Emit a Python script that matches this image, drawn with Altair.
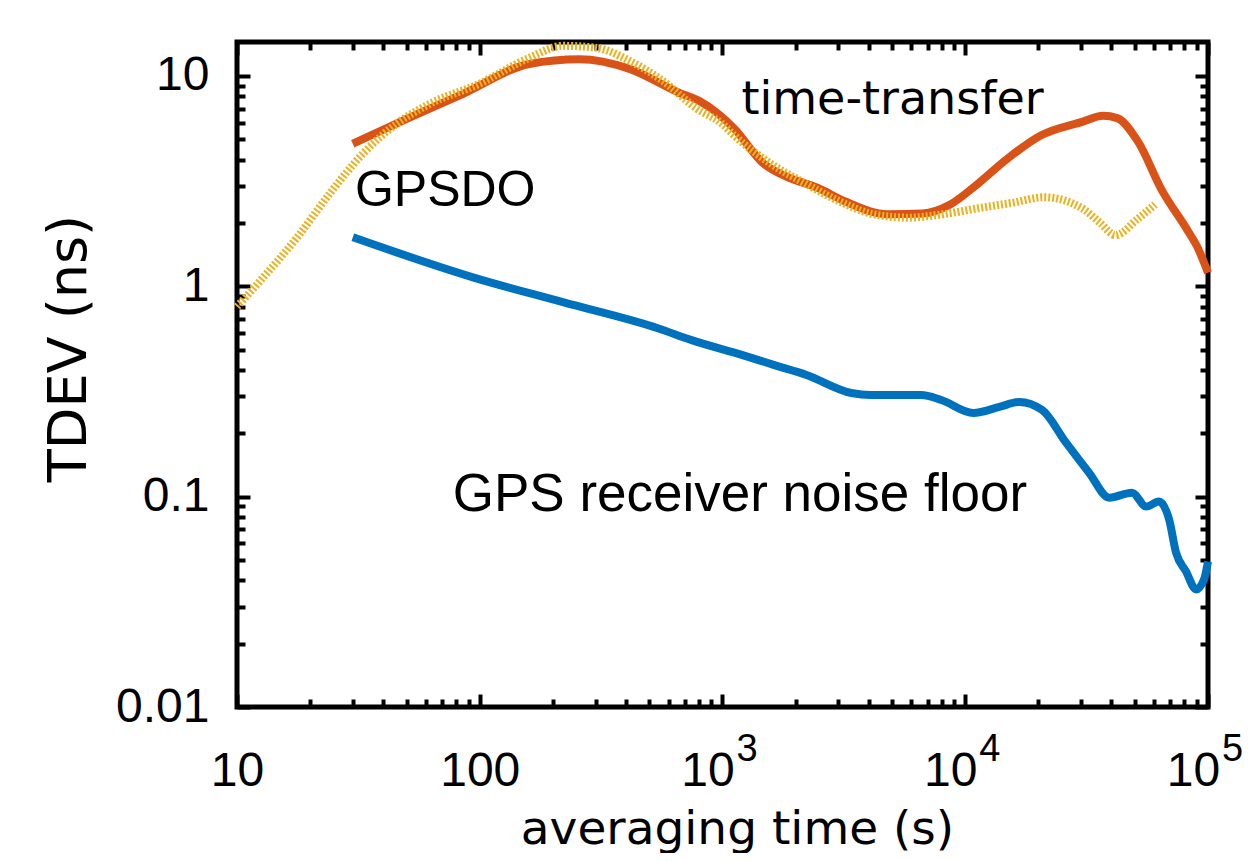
import altair as alt
import pandas as pd

# ---- data ----
tt_t = [30, 50, 85, 160, 258, 414, 665, 804, 1120, 1462, 1834, 2461, 3207, 4775,
        6653, 8670, 11300, 14750, 20370, 30300, 36980, 42260, 51500, 64700, 82000,
        90100, 100000]
tt_v = [4.76, 6.25, 8.2, 11.4, 12.0, 10.8, 8.3, 7.6, 5.61, 3.87, 3.32, 2.94, 2.53, 2.2,
        2.22, 2.45, 3.08, 4.0, 5.2, 6.05, 6.46, 6.3, 4.87, 2.85, 1.86, 1.55, 1.16]

gpsdo_t = [10, 12.8, 17.7, 24.1, 33.0, 45.5, 62.2, 100, 160, 220, 303, 414, 566, 782,
           1000, 1120, 1560, 2170, 3000, 4180, 5820, 8110, 11300, 15800, 21100, 30300,
           36000, 41500, 51500, 60500]
gpsdo_v = [0.80, 1.10, 1.71, 2.76, 4.27, 5.93, 7.37, 9.2, 12.2, 13.9, 13.6, 11.8, 9.5, 7.0,
           5.9, 5.2, 3.87, 3.1, 2.55, 2.2, 2.12, 2.2, 2.35, 2.5, 2.65, 2.35,
           2.0, 1.75, 2.1, 2.45]

floor_t = [30, 94.5, 220, 545, 746, 1210, 1637, 2218, 3396, 4064, 6590, 7965, 10790,
           13800, 16700, 20750, 26060, 32360, 39170, 48640, 55590, 62810, 69180, 73810,
           81160, 89300, 96300, 100000]
floor_v = [1.71, 1.10, 0.84, 0.63, 0.555, 0.471, 0.422, 0.379, 0.311, 0.304, 0.304, 0.288,
           0.250, 0.267, 0.282, 0.258, 0.180, 0.130, 0.0989, 0.1045, 0.0897, 0.0947,
           0.0778, 0.0543, 0.0441, 0.0362, 0.0404, 0.0492]

ann_text = ["time-transfer", "GPSDO", "GPS receiver noise floor"]
ann_t = [1197, 30.6, 77.4]
ann_v = [6.6, 2.42, 0.0859]

x_major = [10, 100, 1000, 10000, 100000]
x_super = [1000, 10000, 100000]
x_ticks = [10, 20, 30, 40, 50, 60, 70, 80, 90,
           100, 200, 300, 400, 500, 600, 700, 800, 900,
           1000, 2000, 3000, 4000, 5000, 6000, 7000, 8000, 9000,
           10000, 20000, 30000, 40000, 50000, 60000, 70000, 80000, 90000, 100000]
y_major = [0.01, 0.1, 1, 10]
y_ticks = [0.01, 0.02, 0.03, 0.04, 0.05, 0.06, 0.07, 0.08, 0.09,
           0.1, 0.2, 0.3, 0.4, 0.5, 0.6, 0.7, 0.8, 0.9,
           1, 2, 3, 4, 5, 6, 7, 8, 9, 10]

W, H = 971, 665
X_DOM = [10, 100000]
Y_DOM = [0.01, 14.5]

tt = pd.DataFrame({"t": tt_t, "v": tt_v})
gp = pd.DataFrame({"t": gpsdo_t, "v": gpsdo_v})
fl = pd.DataFrame({"t": floor_t, "v": floor_v})
ann = pd.DataFrame({"t": ann_t, "v": ann_v, "label": ann_text})

MAJOR = "abs(log(datum.value)/LN10 - round(log(datum.value)/LN10)) < 0.001"
TICK_SIZE = {"condition": {"test": MAJOR, "value": 13}, "value": 8}

xs = alt.Scale(type="log", domain=X_DOM, nice=False)
ys = alt.Scale(type="log", domain=Y_DOM, nice=False)

LABEL_FONT = "Liberation Sans"


def tick_axis(orient, offset, values):
    return alt.Axis(orient=orient, offset=offset, values=values, labels=False,
                    domain=False, grid=False, ticks=True, tickSize=TICK_SIZE,
                    tickWidth=4, tickColor="black", tickOpacity=1, title=None)


# layer 1: orange time-transfer, with label axes
x_lab = alt.Axis(orient="bottom", values=x_major, grid=False, domain=False, ticks=False,
                 tickSize=0, labelPadding=40, labelFlush=False, labelOverlap=False,
                 labelExpr="datum.value < 1000 ? format(datum.value, 'd') : '10'",
                 labelOffset={"condition": {"test": "datum.value >= 1000", "value": -15},
                              "value": 0},
                 labelFont=LABEL_FONT, labelFontSize=48, labelColor="black",
                 title="averaging time (s)", titleFont="DejaVu Sans", titleFontSize=47,
                 titleFontWeight="normal", titleColor="black", titleX=500, titleY=136,
                 titleAlign="center", titleBaseline="alphabetic")
y_lab = alt.Axis(orient="left", values=y_major, grid=False, domain=False, ticks=False,
                 tickSize=0, labelPadding=28, format="~g", labelFlush=False,
                 labelOverlap=False,
                 labelFont=LABEL_FONT, labelFontSize=48, labelColor="black",
                 title="TDEV (ns)", titleFont="DejaVu Sans", titleFontSize=54,
                 titleFontWeight="normal", titleColor="black", titleX=-152, titleY=306,
                 titleAngle=270, titleAlign="center", titleBaseline="alphabetic")

orange = alt.Chart(tt).mark_line(color="#D95319", strokeWidth=8, interpolate="monotone").encode(
    x=alt.X("t:Q", scale=xs, axis=x_lab),
    y=alt.Y("v:Q", scale=ys, axis=y_lab),
)

# layer 2: GPSDO dotted, ticks on bottom and left edges
yellow = alt.Chart(gp).mark_line(color="#EDB120", strokeWidth=8, strokeDash=[2, 2],
                                 interpolate="monotone").encode(
    x=alt.X("t:Q", scale=xs, axis=tick_axis("top", -H, x_ticks)),
    y=alt.Y("v:Q", scale=ys, axis=tick_axis("right", -W, y_ticks)),
)

# layer 3: receiver noise floor, ticks on top and right edges
blue = alt.Chart(fl).mark_line(color="#0072BD", strokeWidth=8, interpolate="monotone").encode(
    x=alt.X("t:Q", scale=xs, axis=tick_axis("bottom", -H, x_ticks)),
    y=alt.Y("v:Q", scale=ys, axis=tick_axis("left", -W, y_ticks)),
)

# layer 4: exponent labels for 10^3 .. 10^5
x_sup = alt.Axis(orient="bottom", values=x_super, grid=False, domain=False, ticks=False,
                 tickSize=0, labelPadding=23, labelOffset=24, labelFlush=False,
                 labelOverlap=False,
                 labelExpr="format(round(log(datum.value)/LN10), 'd')",
                 labelFont=LABEL_FONT, labelFontSize=38, labelColor="black", title=None)
sup = alt.Chart(fl).mark_line(opacity=0).encode(
    x=alt.X("t:Q", scale=xs, axis=x_sup),
    y=alt.Y("v:Q", scale=ys, axis=None),
)


# annotations
def ann_layer(i, font, size):
    return alt.Chart(ann.iloc[[i]]).mark_text(
        align="left", baseline="alphabetic", font=font, fontSize=size, color="black"
    ).encode(
        x=alt.X("t:Q", scale=xs, axis=None),
        y=alt.Y("v:Q", scale=ys, axis=None),
        text="label:N",
    )


t1 = ann_layer(0, "DejaVu Sans", 46)
t2 = ann_layer(1, "Liberation Sans", 50)
t3 = ann_layer(2, "Liberation Sans", 53)

chart = alt.layer(orange, yellow, blue, sup, t1, t2, t3).resolve_axis(
    x="independent", y="independent"
).properties(
    width=W, height=H,
    autosize=alt.AutoSizeParams(type="none"),
    padding={"left": 229, "top": 34, "right": 36, "bottom": 146},
).configure_view(stroke="black", strokeWidth=5)

chart.save("out.html", embed_options={"renderer": "svg", "actions": False})
